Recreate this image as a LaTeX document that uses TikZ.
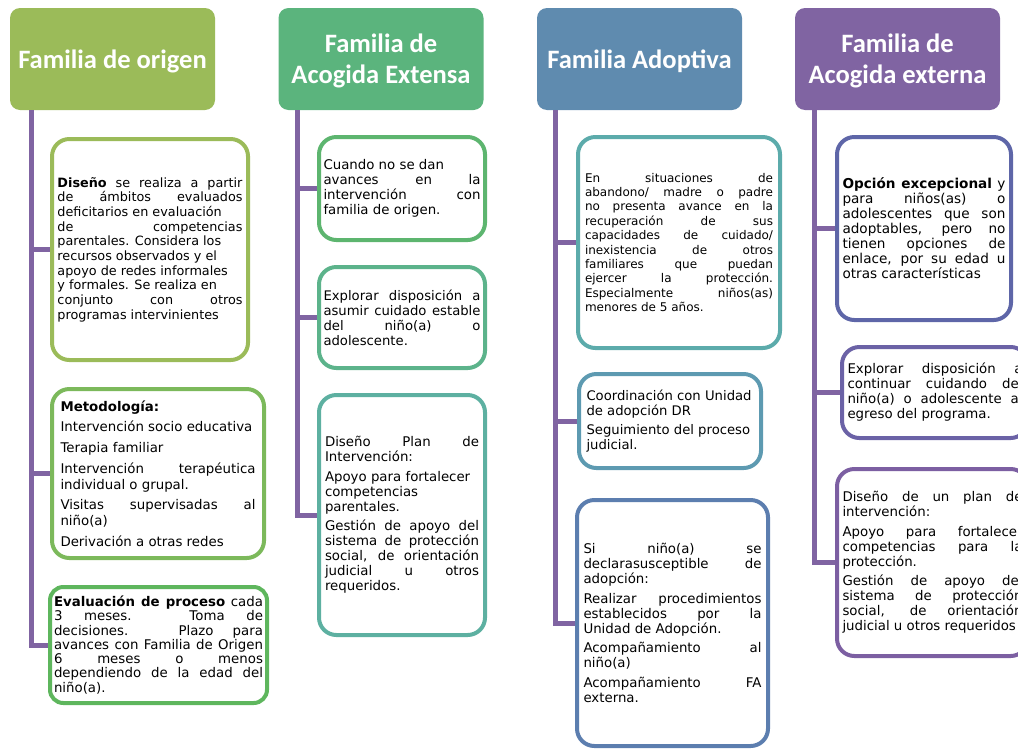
\documentclass[tikz,border=0pt]{standalone}
\usepackage{fontspec}
\setmainfont{DejaVu Sans}
\newfontfamily\hdrfont{Carlito}
\definecolor{cOrigen}{HTML}{9BBB59}
\definecolor{cExtensa}{HTML}{5BB47D}
\definecolor{cAdoptiva}{HTML}{5F8BAF}
\definecolor{cExterna}{HTML}{8064A2}
\definecolor{lOrigenA}{HTML}{9BBB59}
\definecolor{lOrigenB}{HTML}{7CB95B}
\definecolor{lOrigenC}{HTML}{5EB65D}
\definecolor{lExtensaA}{HTML}{5DB56F}
\definecolor{lExtensaB}{HTML}{5CB38B}
\definecolor{lExtensaC}{HTML}{5DB0A1}
\definecolor{lAdoptivaA}{HTML}{5CABAB}
\definecolor{lAdoptivaB}{HTML}{5D9AB1}
\definecolor{lAdoptivaC}{HTML}{5C7EAF}
\definecolor{lExternaA}{HTML}{5E66A8}
\definecolor{lExternaB}{HTML}{6B62A6}
\definecolor{lExternaC}{HTML}{7C5FA2}
\newcommand\stagetext{\hyphenpenalty=10000\exhyphenpenalty=10000\tolerance=10000\setlength{\parskip}{3.5pt}}
\begin{document}
\begin{tikzpicture}[x=0.75pt,y=-0.75pt,
	famhead/.style={rectangle,rounded corners=7.5pt,fill=#1,text=white,minimum width=153.75pt,minimum height=76.5pt,align=center,text depth=0pt,font=\hdrfont\bfseries\fontsize{19.9}{23.5}\selectfont},
	stage/.style n args={4}{rectangle,rounded corners=13pt,draw=#1,line width=3pt,fill=white,inner sep=0pt,align=justify,font=\fontsize{10}{11.25}\selectfont,execute at begin node=\stagetext,text width=#2,minimum width=#3,minimum height=#4},
	trunk/.style={draw=cExterna,line width=3.75pt}]
	\useasboundingbox (0,0) rectangle (1018,750);
	\node [famhead=cOrigen] at (112.5,59) (origen) {Familia de origen};
	\node [famhead=cExtensa] at (381,59) (extensa) {Familia de\\Acogida Extensa};
	\node [famhead=cAdoptiva] at (639.5,59) (adoptiva) {Familia Adoptiva};
	\node [famhead=cExterna] at (897.5,59) (externa) {Familia de\\Acogida externa};
	\node [stage={lOrigenA}{138.75pt}{147pt}{165.75pt},font=\fontsize{9.6}{11}\selectfont] at (150,249.5) (o1) {\textbf{Diseño} se realiza a partir\linebreak de ámbitos evaluados\linebreak deficitarios en evaluación\newline de competencias\linebreak parentales. Considera los\newline recursos observados y el\newline apoyo de redes informales\newline y formales. Se realiza en\newline conjunto con otros\linebreak programas intervinientes};
	\node [stage={lOrigenB}{146.25pt}{159pt}{126.75pt},font=\fontsize{10}{12}\selectfont] at (158,473.5) (o2) {\textbf{Metodología:}\par Intervención socio educativa\par Terapia familiar\par Intervención terapéutica\linebreak individual o grupal.\par Visitas supervisadas al\linebreak niño(a)\par Derivación a otras redes};
	\node [stage={lOrigenC}{156.75pt}{162.75pt}{87pt},rounded corners=10pt,font=\fontsize{10}{10.7}\selectfont] at (158.5,645) (o3) {\textbf{Evaluación de proceso} cada\linebreak 3 meses. Toma de\linebreak decisiones. Plazo para\linebreak avances con Familia de Origen\linebreak 6 meses o menos\linebreak dependiendo de la edad del\linebreak niño(a).};
	\node [stage={lExtensaA}{117.75pt}{124.5pt}{77.25pt}] at (402,188.5) (e1) {Cuando no se dan\newline avances en la\linebreak intervención con\linebreak familia de origen.};
	\node [stage={lExtensaB}{117.75pt}{124.5pt}{75.75pt},font=\fontsize{9.9}{11.25}\selectfont] at (402,317.5) (e2) {Explorar disposición a\linebreak asumir cuidado estable\linebreak del niño(a) o\linebreak adolescente.};
	\node [stage={lExtensaC}{115.5pt}{124.5pt}{180pt}] at (402,515) (e3) {Diseño Plan de\linebreak Intervención:\par Apoyo para fortalecer\newline competencias\newline parentales.\par Gestión de apoyo del\linebreak sistema de protección\linebreak social, de orientación\linebreak judicial u otros\linebreak requeridos.};
	\node [stage={lAdoptivaA}{141pt}{151.5pt}{158.25pt},font=\fontsize{9}{10.8}\selectfont] at (679,242.5) (a1) {En situaciones de\linebreak abandono/ madre o padre\linebreak no presenta avance en la\linebreak recuperación de sus\linebreak capacidades de cuidado/\linebreak inexistencia de otros\linebreak familiares que puedan\linebreak ejercer la protección.\linebreak Especialmente niños(as)\linebreak menores de 5 años.};
	\node [stage={lAdoptivaB}{125.25pt}{136.5pt}{70.5pt},font=\fontsize{9.9}{11.25}\selectfont] at (670,421) (a2) {Coordinación con Unidad\newline de adopción DR\par Seguimiento del proceso\newline judicial.};
	\node [stage={lAdoptivaC}{133.5pt}{143.25pt}{184.5pt}] at (672.5,623) (a3) {Si niño(a) se\linebreak declarasusceptible de\linebreak adopción:\par Realizar procedimientos\linebreak establecidos por la\linebreak Unidad de Adopción.\par Acompañamiento al\linebreak niño(a)\par Acompañamiento FA\linebreak externa.};
	\node [stage={lExternaA}{122.25pt}{130.5pt}{137.25pt},font=\fontsize{10.2}{11.25}\selectfont] at (924,228.5) (x1) {\textbf{Opción excepcional} y\linebreak para niños(as) o\linebreak adolescentes que son\linebreak adoptables, pero no\linebreak tienen opciones de\linebreak enlace, por su edad u\linebreak otras características};
	\node [stage={lExternaB}{131.25pt}{139.5pt}{68.25pt}] at (935,392.5) (x2) {Explorar disposición a\linebreak continuar cuidando del\linebreak niño(a) o adolescente al\linebreak egreso del programa.};
	\node [stage={lExternaC}{135pt}{143.25pt}{140.25pt}] at (932.5,562.5) (x3) {Diseño de un plan de\linebreak intervención:\par Apoyo para fortalecer\linebreak competencias para la\linebreak protección.\par Gestión de apoyo del\linebreak sistema de protección\linebreak social, de orientación\linebreak judicial u otros requeridos};
	\coordinate (t1) at (31,110);
	\coordinate (t2) at (297,110);
	\coordinate (t3) at (555,110);
	\coordinate (t4) at (814,110);
	\draw [trunk] (t1) |- (o3.west);
	\draw [trunk] (t1 |- o1.west) -- (o1.west);
	\draw [trunk] (t1 |- o2.west) -- (o2.west);
	\draw [trunk] (t2) |- (e3.west);
	\draw [trunk] (t2 |- e1.west) -- (e1.west);
	\draw [trunk] (t2 |- e2.west) -- (e2.west);
	\draw [trunk] (t3) |- (a3.west);
	\draw [trunk] (t3 |- a1.west) -- (a1.west);
	\draw [trunk] (t3 |- a2.west) -- (a2.west);
	\draw [trunk] (t4) |- (x3.west);
	\draw [trunk] (t4 |- x1.west) -- (x1.west);
	\draw [trunk] (t4 |- x2.west) -- (x2.west);
\end{tikzpicture}
\end{document}
